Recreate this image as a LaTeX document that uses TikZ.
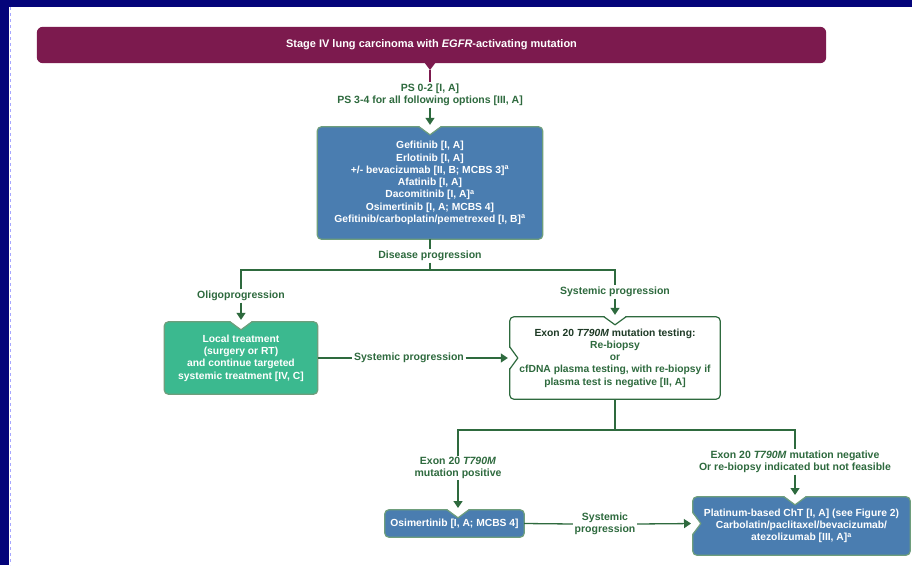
\documentclass[tikz,border=0pt]{standalone}
\usepackage{fontspec}
\setmainfont{Liberation Sans}
\usetikzlibrary{arrows.meta,calc}
\definecolor{navy}{HTML}{04047A}
\definecolor{hdrmaroon}{HTML}{7C1A4E}
\definecolor{boxblue}{HTML}{4A7DB0}
\definecolor{boxteal}{HTML}{3BB98F}
\definecolor{lgreen}{HTML}{2E6A3E}
\definecolor{bord}{HTML}{6E9E7C}
\definecolor{darktxt}{HTML}{1E3A26}
\pgfdeclarelayer{bg}
\pgfdeclarelayer{paper}
\pgfsetlayers{paper,bg,main}
\tikzset{
  lbl/.style={text=lgreen, font=\bfseries\fontsize{10.5}{12}\selectfont, align=center, inner sep=1.5pt},
  boxtxt/.style={text=white, font=\bfseries\fontsize{10.3}{12.3}\selectfont, align=center, inner sep=0pt},
  conn/.style={draw=lgreen, line width=1.3pt},
  arr/.style={conn, -{Triangle[width=9pt,length=7pt]}, shorten >=2pt},
  boxline/.style={draw=bord, line width=1.2pt, rounded corners=4pt},
  notchline/.style={draw=bord, line width=1.2pt, line join=round},
}
% #1 node, #2 fill, #3 border colour, #4 top notch x-offset
\newcommand\tbox[4]{%
  \draw[boxline,fill=#2,draw=#3] (#1.south west) rectangle (#1.north east);
  \fill[white] ($(#1.north)+(#4-11,1)$) -- ($(#1.north)+(#4+11,1)$) -- ($(#1.north)+(#4,-8)$) -- cycle;
  \draw[notchline,draw=#3] ($(#1.north)+(#4-11,0)$) -- ($(#1.north)+(#4,-8)$) -- ($(#1.north)+(#4+11,0)$);}
% #5 left notch y-offset
\newcommand\lnotch[3]{%
  \fill[white] ($(#1.west)+(-1,#3-11)$) -- ($(#1.west)+(-1,#3+11)$) -- ($(#1.west)+(8,#3)$) -- cycle;
  \draw[notchline,draw=#2] ($(#1.west)+(0,#3-11)$) -- ($(#1.west)+(8,#3)$) -- ($(#1.west)+(0,#3+11)$);}
\begin{document}
\begin{tikzpicture}[x=1pt,y=1pt]
\useasboundingbox (0,0) rectangle (912,-565);
\begin{pgfonlayer}{paper}
\fill[white] (0,0) rectangle (912,-565);
\fill[navy] (0,0) rectangle (912,-7);
\fill[navy] (0,0) rectangle (9,-565);
\draw[blue!35, dashed, line width=0.6pt] (9.8,-7) -- (9.8,-565);
\end{pgfonlayer}

% header
\node[boxtxt, font=\bfseries\fontsize{11}{13}\selectfont, minimum width=789pt, minimum height=36pt] (hdr) at (431.5,-45) {Stage IV lung carcinoma with \textit{EGFR}-activating mutation};
\coordinate (hdrtip) at (430,-70);
\begin{pgfonlayer}{bg}
\fill[hdrmaroon, rounded corners=6pt] (hdr.south west) rectangle (hdr.north east);
\fill[hdrmaroon] (424,-62) -- (436,-62) -- (hdrtip) -- cycle;
\end{pgfonlayer}

\node[lbl] (ps) at (430,-95) {PS 0-2 [I, A]\\PS 3-4 for all following options [III, A]};
\draw[conn, draw=hdrmaroon] (hdrtip) -- (ps.north);

\node[boxtxt, minimum width=225pt, minimum height=112pt] (tx) at (430,-183) {Gefitinib [I, A]\\Erlotinib [I, A]\\+/- bevacizumab [II, B; MCBS 3]\textsuperscript{a}\\Afatinib [I, A]\\Dacomitinib [I, A]\textsuperscript{a}\\Osimertinib [I, A; MCBS 4]\\Gefitinib/carboplatin/pemetrexed [I, B]\textsuperscript{a}};
\draw[arr] (ps.south) -- (tx.north);

\node[lbl] (dis) at (430,-256) {Disease progression};
\coordinate (j1) at (430,-270);
\coordinate (jl) at (241,-270);
\coordinate (jr) at (615,-270);
\draw[conn] (tx.south) -- (dis.north);
\draw[conn] (dis.south) -- (j1);

\node[lbl] (oligo) at (241,-296) {Oligoprogression};
\node[lbl] (sys) at (615,-292) {Systemic progression};
\draw[conn] (oligo.north) -- (jl) -- (jr) -- (sys.north);

\node[boxtxt, minimum width=153pt, minimum height=72pt] (local) at (241,-358) {Local treatment\\(surgery or RT)\\and continue targeted\\systemic treatment [IV, C]};
\draw[arr] (oligo.south) -- (local.north);

\node[boxtxt, text=lgreen, minimum width=210pt, minimum height=82pt] (test) at (615,-358) {\textcolor{darktxt}{Exon 20 \textit{T790M} mutation testing:}\\Re-biopsy\\or\\cfDNA plasma testing, with re-biopsy if\\plasma test is negative [II, A]};
\draw[arr] (sys.south) -- (test.north);

\node[lbl] (sp1) at (409,-358) {Systemic progression};
\draw[conn] (local.east) -- (sp1.west);
\draw[arr] (sp1.east) -- (test.west);

\coordinate (j2) at (615,-430);
\coordinate (kl) at (458,-430);
\coordinate (kr) at (795,-430);
\draw[conn] (test.south) -- (j2);

\node[lbl] (pos) at (458,-468) {Exon 20 \textit{T790M}\\mutation positive};
\node[lbl] (neg) at (795,-462) {Exon 20 \textit{T790M} mutation negative\\Or re-biopsy indicated but not feasible};
\draw[conn] (pos.north) -- (kl) -- (kr) -- (neg.north);

\node[boxtxt, minimum width=139pt, minimum height=27pt] (osim) at (454.5,-523.5) {Osimertinib [I, A; MCBS 4]};
\coordinate (osimin) at (458,-510);
\draw[arr] (pos.south) -- (osimin);

\node[boxtxt, minimum width=217pt, minimum height=58pt] (plat) at (801.5,-526) {Platinum-based ChT [I, A] (see Figure 2)\\Carbolatin/paclitaxel/bevacizumab/\\atezolizumab [III, A]\textsuperscript{a}};
\coordinate (platin) at (795,-497);
\coordinate (platlin) at (693,-523.5);
\draw[arr] (neg.south) -- (platin);

\node[lbl] (sp2) at (605,-524) {Systemic\\progression};
\draw[conn] (osim.east) -- (sp2.west);
\draw[arr] (sp2.east) -- (platlin);

\begin{pgfonlayer}{bg}
\tbox{tx}{boxblue}{bord}{0}
\tbox{local}{boxteal}{bord}{0}
\tbox{test}{white}{lgreen}{0}
\lnotch{test}{lgreen}{0}
\tbox{osim}{boxblue}{bord}{3.5}
\tbox{plat}{boxblue}{bord}{-6.5}
\lnotch{plat}{bord}{2.5}
\end{pgfonlayer}
\end{tikzpicture}
\end{document}
